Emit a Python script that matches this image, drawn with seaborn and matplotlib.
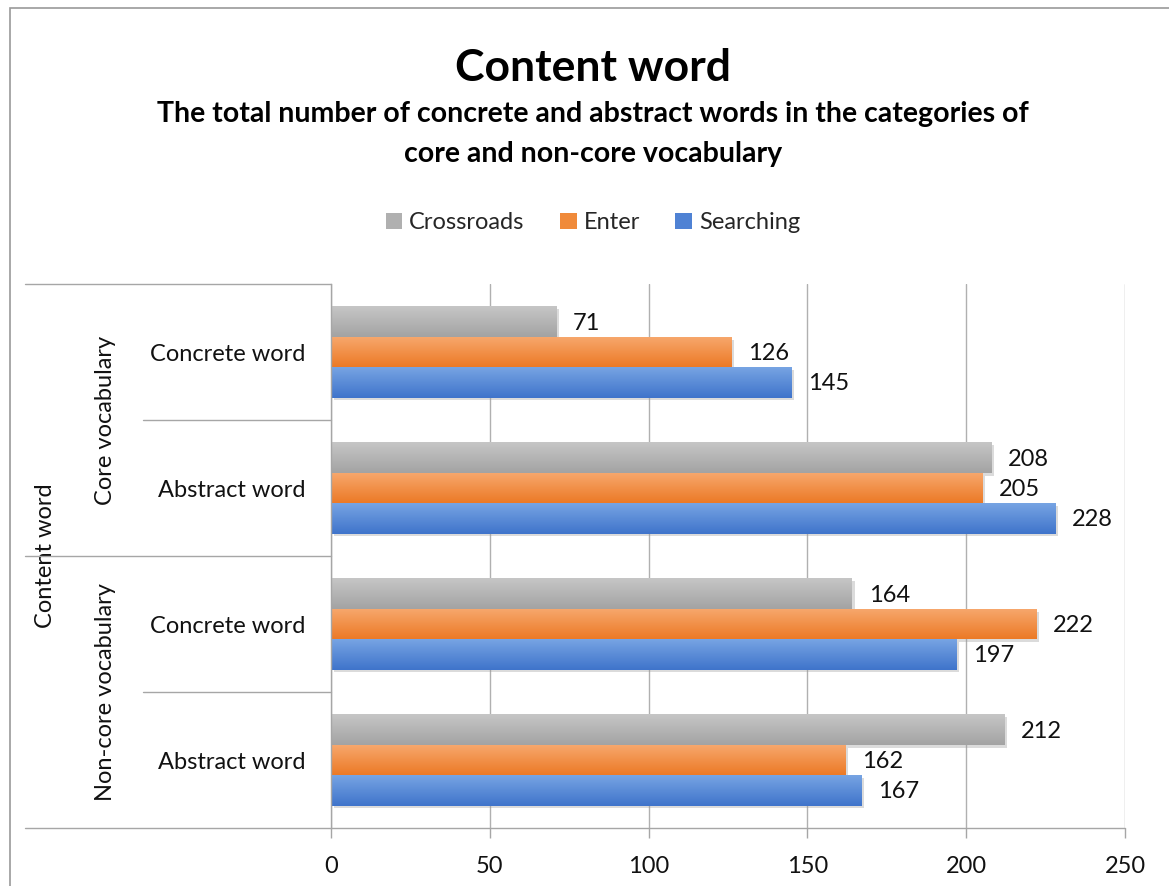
import numpy as np
import pandas as pd
import matplotlib
matplotlib.use("Agg")
import matplotlib.pyplot as plt
import matplotlib.transforms as mtransforms
from matplotlib.lines import Line2D
from matplotlib.patches import Patch, Rectangle
from matplotlib import patheffects as pe
from matplotlib.colors import to_rgb
import seaborn as sns

# ---- data ---------------------------------------------------------------
groups = ["Core vocabulary", "Non-core vocabulary"]
word_types = ["Concrete word", "Abstract word"]
series = ["Crossroads", "Enter", "Searching"]
crossroads = [71, 208, 164, 212]
enter = [126, 205, 222, 162]
searching = [145, 228, 197, 167]
xticks = [0, 50, 100, 150, 200, 250]
outer_label = "Content word"

row_keys = [f"{g}|{w}" for g in groups for w in word_types]
values = {"Crossroads": crossroads, "Enter": enter, "Searching": searching}
df = pd.DataFrame(
    [(row_keys[i], s, values[s][i]) for s in series for i in range(len(row_keys))],
    columns=["row", "series", "value"],
)

# (top colour, bottom colour) of each bar gradient
grad = {
    "Crossroads": ("#c6c6c6", "#a3a3a3"),
    "Enter": ("#f7a86e", "#ec7a26"),
    "Searching": ("#77a4e3", "#3f74cb"),
}
solid = {k: v[1] for k, v in grad.items()}
legend_c = {"Crossroads": "#b0b0b0", "Enter": "#f08a3a", "Searching": "#4f82d4"}

sns.set_theme(style="white")
plt.rcParams["font.family"] = ["Lato", "DejaVu Sans"]

W, H = 1169, 886
fig = plt.figure(figsize=(W / 100, H / 100), dpi=100)
fig.patch.set_facecolor("white")


def fx(p):
    return p / W


def fy(p):
    return 1 - p / H


ax = fig.add_axes([fx(331), fy(828), fx(1125) - fx(331), fy(284) - fy(828)])

sns.barplot(
    data=df, y="row", x="value", hue="series", order=row_keys,
    hue_order=series, orient="h", width=0.67, palette=solid,
    saturation=1, edgecolor="none", linewidth=0, legend=False, ax=ax,
)

ax.set_xlim(0, 250)
ax.set_ylim(3.5, -0.5)

txt_c = "#111111"
fs = 17

# gradient fill + soft shadow for every bar
shadow = [pe.SimplePatchShadow(offset=(2, -2), shadow_rgbFace="#9a9a9a", alpha=0.35), pe.Normal()]
for cont, name in zip(ax.containers, series):
    top, bot = (np.array(to_rgb(c)) for c in grad[name])
    t = np.linspace(0, 1, 64)[:, None]
    img = (top * (1 - t) + bot * t)[:, None, :]
    for bar in cont:
        bar.set_path_effects(shadow)
        x0, y0 = bar.get_x(), bar.get_y()
        w, h = bar.get_width(), bar.get_height()
        im = ax.imshow(img, extent=(x0, x0 + w, y0 + h, y0), origin="upper",
                       aspect="auto", interpolation="bilinear", zorder=bar.get_zorder() + 0.1)
        im.set_clip_path(bar)
    # value labels
    for bar, v in zip(cont, values[name]):
        ax.annotate(str(v), xy=(v, bar.get_y() + bar.get_height() / 2),
                    xytext=(12, -1), textcoords="offset points",
                    ha="left", va="center", fontsize=fs, color=txt_c)

ax.set_xlim(0, 250)
ax.set_ylim(3.5, -0.5)

# axes styling
line_c = "#a6a6a6"
ax.set_xticks(xticks)
ax.set_xticklabels([str(t) for t in xticks], fontsize=fs, color=txt_c)
ax.xaxis.grid(True, color="#b0b0b0", lw=1)
ax.set_axisbelow(True)
ax.tick_params(axis="x", length=7, width=1, color=line_c, pad=13, bottom=True)
ax.set_yticks([])
ax.set_xlabel("")
ax.set_ylabel("")
for s in ["top", "right", "bottom"]:
    ax.spines[s].set_visible(False)
ax.spines["left"].set_color(line_c)
ax.spines["left"].set_linewidth(1)

# hierarchical category axis
tr = mtransforms.blended_transform_factory(fig.transFigure, ax.transData)
for yb, x_start in [(-0.5, 25), (0.5, 143), (1.5, 25), (2.5, 143), (3.5, 25)]:
    x_end = 1125 if yb == 3.5 else 331
    fig.add_artist(Line2D([fx(x_start), fx(x_end)], [yb, yb], transform=tr,
                          color=line_c, lw=1))
for i, key in enumerate(row_keys):
    ax.text(fx(305), i + 0.015, key.split("|")[1], transform=tr, ha="right", va="center",
            fontsize=fs, color=txt_c)
for gi, g in enumerate(groups):
    ax.text(fx(105), gi * 2 + 0.5, g, transform=tr, ha="center", va="center",
            rotation=90, fontsize=fs, color=txt_c)
ax.text(fx(45), 1.5, outer_label, transform=tr, ha="center", va="center",
        rotation=90, fontsize=fs, color=txt_c)

# titles
fig.text(fx(593), fy(68), "Content word", ha="center", va="center",
         fontsize=32, fontweight="bold", color="#000000")
fig.text(fx(593), fy(134),
         "The total number of concrete and abstract words in the categories of\ncore and non-core vocabulary",
         ha="center", va="center", fontsize=20.5, fontweight="bold", color="#000000",
         linespacing=1.65)

# legend
handles = [Patch(facecolor=legend_c[s], edgecolor="none", label=s) for s in series]
fig.legend(handles=handles, loc="center", bbox_to_anchor=(fx(593), fy(223)),
           ncol=3, frameon=False, fontsize=fs, handlelength=0.7, handleheight=0.7,
           handletextpad=0.3, columnspacing=1.5)

# chart frame
fig.add_artist(Rectangle((fx(10), fy(900)), fx(1200), fy(8) - fy(900),
                         transform=fig.transFigure, fill=False,
                         edgecolor="#9a9a9a", lw=1.2))

fig.savefig("out.png", dpi=100, facecolor="white")
